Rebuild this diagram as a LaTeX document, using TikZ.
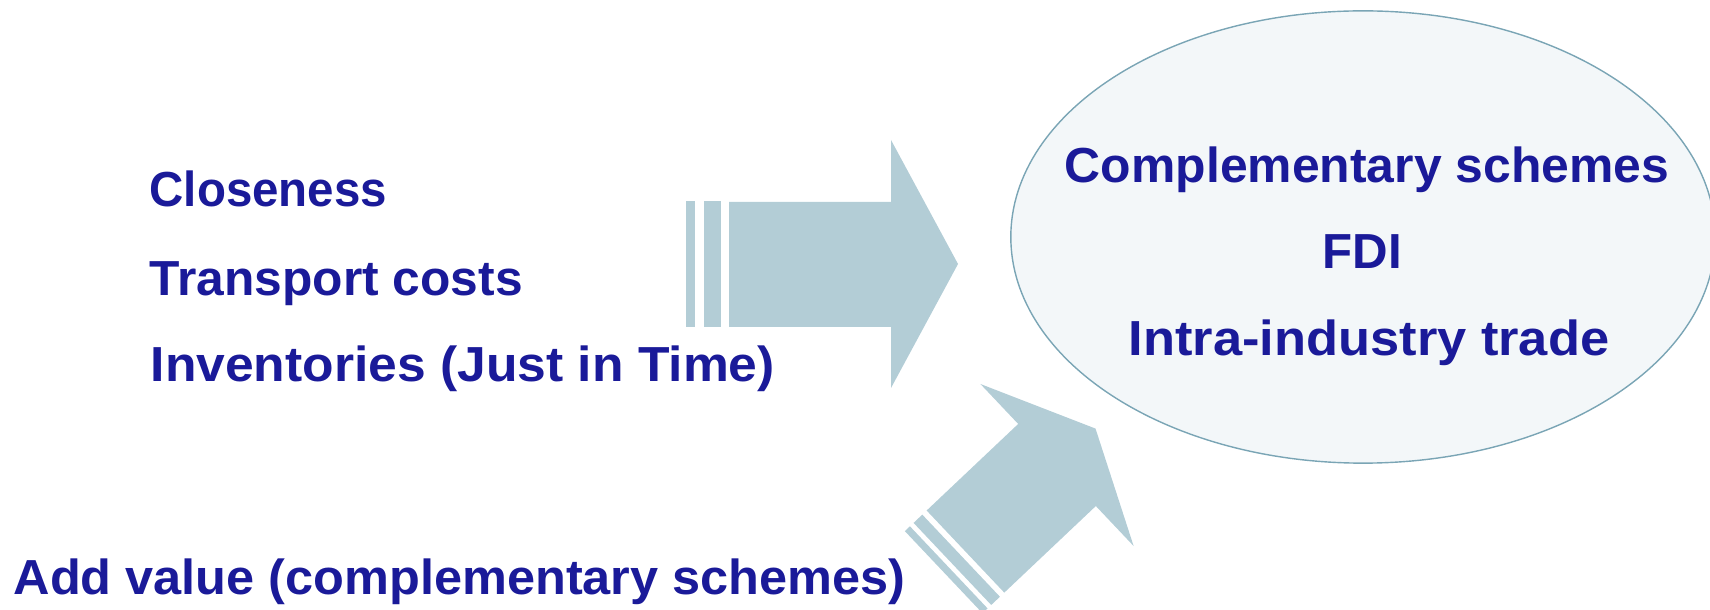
\documentclass[tikz,border=0pt]{standalone}
\usepackage{fontspec}
\setmainfont{Liberation Sans}
\usepackage{tikz}
\usetikzlibrary{shapes.geometric}
\definecolor{inkblue}{RGB}{26,26,153}
\definecolor{arrowblue}{RGB}{179,205,214}
\definecolor{bubblefill}{RGB}{243,247,249}
\definecolor{bubbleline}{RGB}{122,165,181}
\newcommand{\stretchtxt}[2]{\scalebox{#1}[1]{#2}}
\tikzset{
  lbl/.style={anchor=base west,inner sep=0pt,text=inkblue,font=\fontsize{14}{17}\selectfont\bfseries},
  mid/.style={lbl,anchor=base},
  block/.style={fill=arrowblue,draw=none}
}

\begin{document}
\begin{tikzpicture}[x=0.01cm,y=-0.01cm]
    \useasboundingbox (0,0) rectangle (1710,610);
    \clip (0,0) rectangle (1710,610);
    \node[ellipse,draw=bubbleline,fill=bubblefill,line width=0.4pt,minimum width=7.04cm,minimum height=4.52cm] (bubble) at (1363,237) {};
    \node[mid] (cschemes) at (1367,183) {\stretchtxt{1.013}{Complementary schemes}};
    \node[mid] (fdi) at (1362,269) {FDI};
    \node[mid] (intra) at (1369,356) {\stretchtxt{1.065}{Intra-industry trade}};
    \node[lbl] (closeness) at (149,207) {\stretchtxt{0.964}{Closeness}};
    \node[lbl] (transport) at (149,296) {\stretchtxt{1.01}{Transport costs}};
    \node[lbl] (inventories) at (150,382) {\stretchtxt{1.048}{Inventories (Just in Time)}};
    \node[lbl] (addvalue) at (13,594) {\stretchtxt{1.025}{Add value (complementary schemes)}};
    % right arrow
    \fill[block] (686,201) rectangle (695,327);
    \fill[block] (704,201) rectangle (721,327);
    \fill[block] (729,202) -- (891,202) -- (891,140) -- (958,264) -- (891,388) -- (891,327) -- (729,327) -- cycle;
    % diagonal arrow
    \begin{scope}[shift={(1057,465)},rotate=43.4]
      \fill[block] (-156,-56.5) rectangle (-149,56.5);
      \fill[block] (-144,-56.5) rectangle (-132,56.5);
      \fill[block] (-126,-56.5) -- (0,-56.5) -- (0,-111.5) -- (53,0) -- (0,111.5) -- (0,56.5) -- (-126,56.5) -- cycle;
    \end{scope}
\end{tikzpicture}
\end{document}
